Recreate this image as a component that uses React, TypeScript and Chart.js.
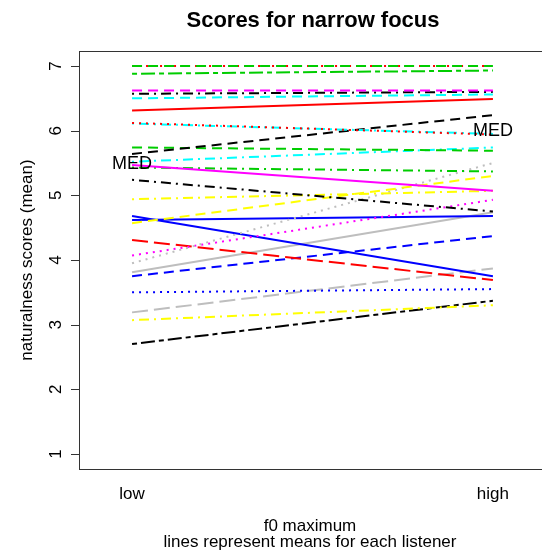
import { useEffect, useRef } from "react";
import { Chart, registerables } from "chart.js";

Chart.register(...registerables);

const categories = ["low", "high"];
const yTicks = [1, 2, 3, 4, 5, 6, 7];

const lowValues = [
  7.0, 7.0, 6.88, 6.62, 6.57, 6.5, 6.31, 6.12, 6.11, 5.64, 5.74, 5.52, 5.47, 5.43,
  5.24, 4.94, 4.57, 3.95, 4.07, 4.68, 4.62, 4.31, 3.81, 3.75, 3.5, 3.19, 3.07, 2.7,
];
const highValues = [
  7.0, 7.0, 6.93, 6.62, 6.6, 6.56, 6.49, 5.94, 5.95, 6.24, 5.69, 5.74, 5.07, 5.37,
  4.75, 5.07, 5.3, 5.5, 4.93, 3.75, 4.68, 3.69, 4.74, 4.37, 3.55, 3.87, 3.3, 3.37,
];
const lineColors = [
  "#00CD00", "#FF0000", "#00CD00", "#FF00FF", "#000000", "#00FFFF", "#FF0000", "#FF0000",
  "#00FFFF", "#000000", "#00CD00", "#00FFFF", "#FF00FF", "#00CD00", "#000000", "#FFFF00",
  "#FFFF00", "#BEBEBE", "#FF00FF", "#0000FF", "#0000FF", "#FF0000", "#BEBEBE", "#0000FF",
  "#0000FF", "#BEBEBE", "#FFFF00", "#000000",
];
const lineTypes = [
  "dashed", "dotted", "twodash", "dashed", "dotdash", "dashed", "solid", "dotted",
  "dotdash", "dashed", "dashed", "dotdash", "solid", "dotdash", "dotdash", "dotdash",
  "dashed", "dotted", "dotted", "solid", "solid", "longdash", "solid", "dashed",
  "dotted", "longdash", "dotdash", "twodash",
];
const medLabelText = ["MED", "MED"];
const medLabelX = [0, 1];
const medLabelY = [5.48, 5.99];

const titleText = "Scores for narrow focus";
const xTitleLines = ["f0 maximum", "lines represent means for each listener"];
const yTitleText = "naturalness scores (mean)";

const dashPatterns: Record<string, number[]> = {
  solid: [],
  dashed: [10, 6],
  dotted: [2, 5],
  dotdash: [2, 5, 10, 5],
  longdash: [16, 6],
  twodash: [5, 4, 14, 4],
};

const FONT = "'Liberation Sans', Arial, Helvetica, sans-serif";

const decorPlugin = {
  id: "rDecor",
  afterDatasetsDraw(chart: any) {
    const ctx = chart.ctx as CanvasRenderingContext2D;
    const xs = chart.scales.x;
    const ys = chart.scales.y;
    ctx.save();
    ctx.fillStyle = "#000";
    ctx.font = `18px ${FONT}`;
    ctx.textAlign = "center";
    ctx.textBaseline = "middle";
    medLabelText.forEach((t, i) => {
      ctx.fillText(t, xs.getPixelForValue(medLabelX[i]), ys.getPixelForValue(medLabelY[i]));
    });
    ctx.restore();
  },
  afterDraw(chart: any) {
    const ctx = chart.ctx as CanvasRenderingContext2D;
    const { left, right, top, bottom } = chart.chartArea;
    const xs = chart.scales.x;
    const ys = chart.scales.y;
    ctx.save();
    // box (right edge falls at the canvas edge, as in the reference)
    ctx.strokeStyle = "#333";
    ctx.lineWidth = 1;
    ctx.setLineDash([]);
    ctx.strokeRect(left + 0.5, top + 0.5, right - left + 2, bottom - top);
    // y ticks
    ctx.beginPath();
    yTicks.forEach((v) => {
      const py = Math.round(ys.getPixelForValue(v)) + 0.5;
      ctx.moveTo(left, py);
      ctx.lineTo(left - 8, py);
    });
    ctx.stroke();
    ctx.fillStyle = "#000";
    ctx.font = `17px ${FONT}`;
    ctx.textAlign = "center";
    ctx.textBaseline = "alphabetic";
    yTicks.forEach((v) => {
      const py = ys.getPixelForValue(v);
      ctx.save();
      ctx.translate(61, py);
      ctx.rotate(-Math.PI / 2);
      ctx.fillText(String(v), 0, 0);
      ctx.restore();
    });
    // x tick labels
    categories.forEach((c, i) => {
      ctx.fillText(c, xs.getPixelForValue(i), 499);
    });
    // x title
    const cx = 310;
    ctx.fillText(xTitleLines[0], cx, 531);
    ctx.fillText(xTitleLines[1], cx, 547);
    // y title
    ctx.save();
    ctx.translate(32, (top + bottom) / 2);
    ctx.rotate(-Math.PI / 2);
    ctx.fillText(yTitleText, 0, 0);
    ctx.restore();
    // main title
    ctx.font = `bold 22px ${FONT}`;
    ctx.fillText(titleText, 313, 27);
    ctx.restore();
  },
};

export default function App() {
  const canvasRef = useRef<HTMLCanvasElement | null>(null);

  useEffect(() => {
    document.body.style.margin = "0";
    const canvas = canvasRef.current;
    if (!canvas) return;
    const datasets = lowValues.map((lo, k) => ({
      label: `listener ${k + 1}`,
      data: categories.map((_, i) => ({ x: i, y: i === 0 ? lo : highValues[k] })),
      borderColor: lineColors[k],
      backgroundColor: lineColors[k],
      borderWidth: 2,
      borderDash: dashPatterns[lineTypes[k]],
      borderCapStyle: "butt" as const,
      pointRadius: 0,
      fill: false,
      tension: 0,
    }));
    const chart = new Chart(canvas, {
      type: "line",
      data: { datasets },
      options: {
        responsive: false,
        animation: false,
        devicePixelRatio: 1,
        layout: { padding: { left: 79, top: 51, right: 0, bottom: 83 } },
        plugins: { legend: { display: false }, tooltip: { enabled: false }, title: { display: false } },
        scales: {
          x: { type: "linear", min: -0.147, max: 1.136, display: false },
          y: { type: "linear", min: 0.768, max: 7.232, display: false },
        },
      },
      plugins: [decorPlugin],
    });
    return () => chart.destroy();
  }, []);

  return (
    <div style={{ width: 542, height: 552, background: "#fff" }}>
      <canvas ref={canvasRef} width={542} height={552} style={{ display: "block" }} />
    </div>
  );
}
